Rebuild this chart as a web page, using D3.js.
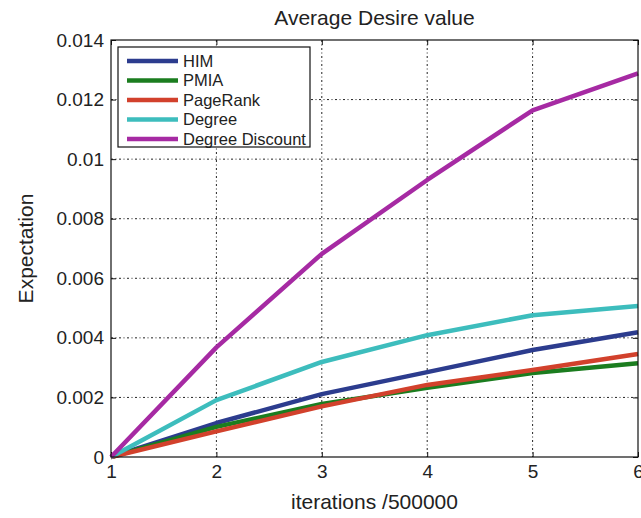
<!DOCTYPE html>
<html>
<head>
<meta charset="utf-8">
<script src="https://cdn.jsdelivr.net/npm/d3@7/dist/d3.min.js"></script>
<style>
  html, body { margin: 0; padding: 0; background: #fff; }
  svg { display: block; font-family: "Liberation Sans", Arial, sans-serif; }
</style>
</head>
<body>
<svg id="chart" width="641" height="518"></svg>
<script>
// Iteration steps (in units of 500000)
const iterations = [1, 2, 3, 4, 5, 6];

// Average desire value per algorithm
const him            = [0, 0.00114, 0.00211, 0.00285, 0.00359, 0.00419];
const pmia           = [0, 0.00101, 0.00178, 0.00232, 0.00282, 0.00315];
const pageRank       = [0, 0.00086, 0.00170, 0.00242, 0.00292, 0.00346];
const degree         = [0, 0.00191, 0.00319, 0.00409, 0.00476, 0.00507];
const degreeDiscount = [0, 0.00368, 0.00682, 0.00930, 0.01164, 0.01288];

const seriesNames  = ["HIM", "PMIA", "PageRank", "Degree", "Degree Discount"];
const seriesValues = [him, pmia, pageRank, degree, degreeDiscount];
const seriesColors = ["#2c3c8e", "#1b7d1f", "#d2412c", "#3dbdbd", "#a62aa3"];

const yTicks = [0, 0.002, 0.004, 0.006, 0.008, 0.01, 0.012, 0.014];
const yTickLabels = ["0", "0.002", "0.004", "0.006", "0.008", "0.01", "0.012", "0.014"];

const margin = { left: 111, right: 3, top: 40, bottom: 61 };
const W = 641, H = 518;
const iw = W - margin.left - margin.right;
const ih = H - margin.top - margin.bottom;

const svg = d3.select("#chart");
const g = svg.append("g").attr("transform", `translate(${margin.left},${margin.top})`);

const x = d3.scaleLinear().domain([1, 6]).range([0, iw]);
const y = d3.scaleLinear().domain([0, 0.014]).range([ih, 0]);

// Dotted grid
const gridStyle = sel => sel.attr("stroke", "#222").attr("stroke-width", 1)
  .attr("stroke-dasharray", "2,2.5,1,2.5");
g.append("g").selectAll("line").data(iterations.slice(1, -1)).join("line")
  .attr("x1", d => x(d)).attr("x2", d => x(d)).attr("y1", 0).attr("y2", ih)
  .call(gridStyle);
g.append("g").selectAll("line").data(yTicks.slice(1, -1)).join("line")
  .attr("x1", 0).attr("x2", iw).attr("y1", d => y(d)).attr("y2", d => y(d))
  .call(gridStyle);

// Axes with inward ticks on all four sides
const tickLen = 5;
const xAxisB = d3.axisBottom(x).tickValues(iterations).tickSize(-tickLen).tickPadding(8).tickFormat(d3.format("d"));
const xAxisT = d3.axisTop(x).tickValues(iterations).tickSize(-tickLen).tickFormat("");
const yAxisL = d3.axisLeft(y).tickValues(yTicks).tickSize(-tickLen).tickPadding(7)
  .tickFormat((d, i) => yTickLabels[i]);
const yAxisR = d3.axisRight(y).tickValues(yTicks).tickSize(-tickLen).tickFormat("");

function styleAxis(sel) {
  sel.select(".domain").remove();
  sel.selectAll(".tick line").attr("stroke", "#111").attr("stroke-width", 1);
  sel.selectAll(".tick text").attr("fill", "#222").style("font-size", "19px")
    .style("font-family", "'Liberation Sans', Arial, sans-serif");
}
g.append("g").attr("transform", `translate(0,${ih})`).call(xAxisB).call(styleAxis);
g.append("g").call(xAxisT).call(styleAxis);
g.append("g").call(yAxisL).call(styleAxis);
g.append("g").attr("transform", `translate(${iw},0)`).call(yAxisR).call(styleAxis);

// Data lines
const line = d3.line().x((d, i) => x(iterations[i])).y(d => y(d));
seriesValues.forEach((vals, k) => {
  g.append("path").datum(vals).attr("d", line)
    .attr("fill", "none").attr("stroke", seriesColors[k])
    .attr("stroke-width", 4.5).attr("stroke-linejoin", "round").attr("stroke-linecap", "butt");
});

// Plot frame
g.append("rect").attr("x", 0).attr("y", 0).attr("width", iw).attr("height", ih)
  .attr("fill", "none").attr("stroke", "#111").attr("stroke-width", 1.2);

// Legend
const lg = g.append("g").attr("transform", "translate(7,7)");
lg.append("rect").attr("x", 0).attr("y", 0).attr("width", 192).attr("height", 100)
  .attr("fill", "#fff").attr("stroke", "#111").attr("stroke-width", 1.2);
seriesNames.forEach((name, k) => {
  const yy = 14 + k * 19.5;
  lg.append("line").attr("x1", 9).attr("x2", 60).attr("y1", yy).attr("y2", yy)
    .attr("stroke", seriesColors[k]).attr("stroke-width", 4.5);
  lg.append("text").attr("x", 65).attr("y", yy).attr("dy", "0.36em")
    .attr("fill", "#222").style("font-size", "16.5px").text(name);
});

// Titles
svg.append("text").attr("x", margin.left + iw / 2).attr("y", 25).attr("text-anchor", "middle")
  .attr("fill", "#222").style("font-size", "21px").text("Average Desire value");
svg.append("text").attr("x", margin.left + iw / 2).attr("y", 509).attr("text-anchor", "middle")
  .attr("fill", "#222").style("font-size", "21px").text("iterations /500000");
svg.append("text").attr("transform", `translate(33,${margin.top + ih / 2}) rotate(-90)`)
  .attr("text-anchor", "middle").attr("fill", "#222").style("font-size", "21px").text("Expectation");
</script>
</body>
</html>
